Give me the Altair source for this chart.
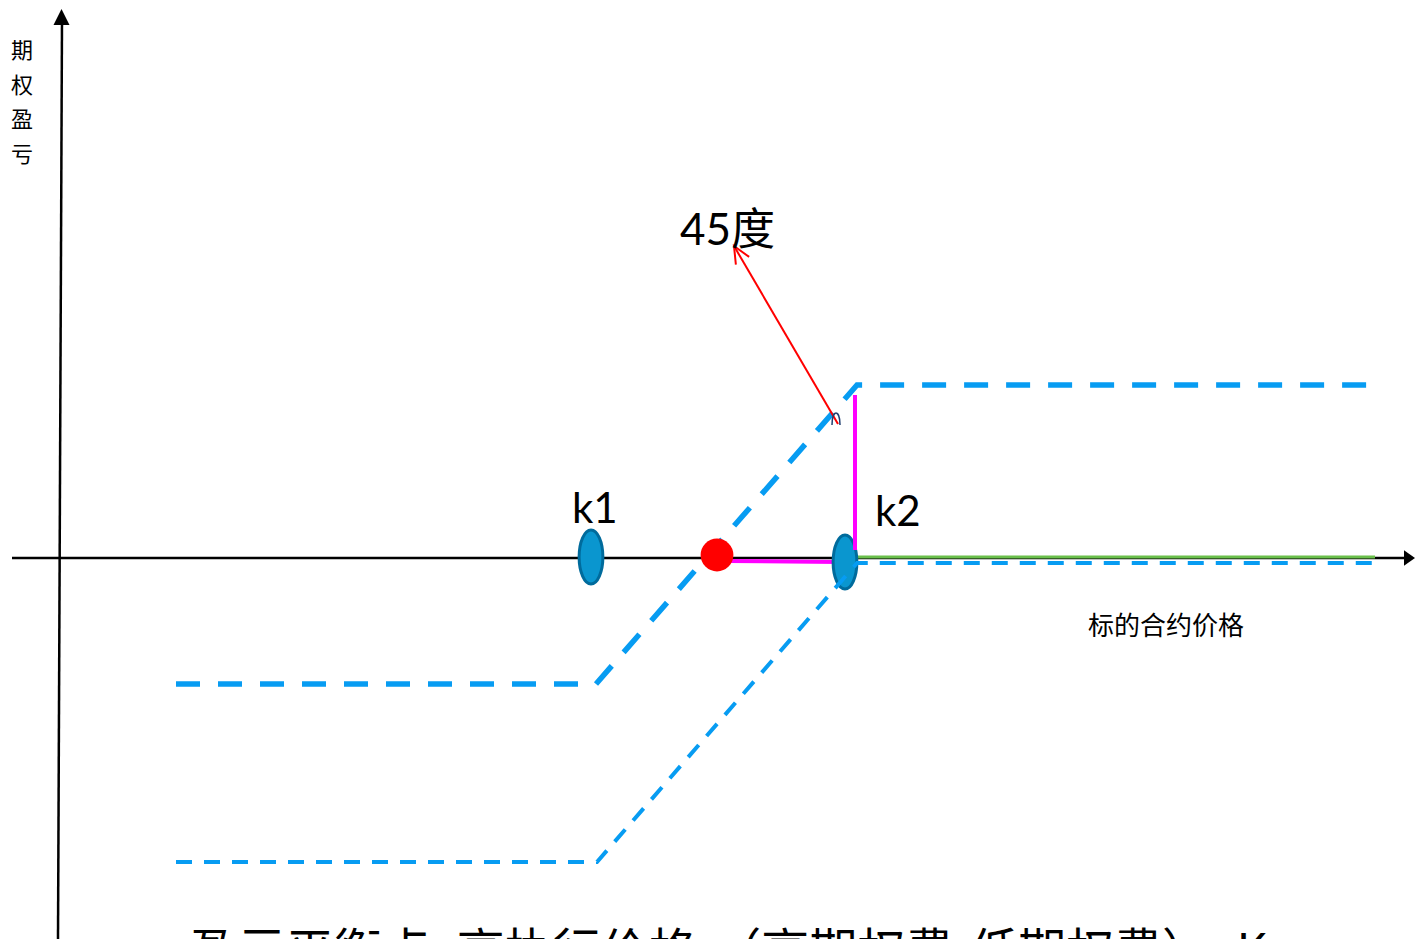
import altair as alt
import pandas as pd

# ---- data (price units on x, profit/loss units on y) ----
thick_x = [11.6, 53.6, 79.7, 131.5]
thick_y = [-12.6, -12.6, 17.3, 17.3]
thin_x = [11.6, 53.7, 79.7, 131.5]
thin_y = [-30.4, -30.4, -0.5, -0.5]
green_x = [79.5, 131.5]
green_y = [0.1, 0.1]
mag_h_x = [66.8, 78.0]
mag_h_y = [-0.3, -0.4]
mag_v_x = [79.5, 79.5]
mag_v_y = [16.3, 0.8]
strike_x = [53.1, 78.5]
strike_y = [0.1, -0.4]
strike_labels = ["k1", "k2"]
strike_label_x = [51.2, 81.5]
strike_label_y = [3.5, 3.2]
breakeven_x = [65.7]
breakeven_y = [0.3]
arrow_x = [77.8, 67.4]
arrow_y = [13.4, 31.2]
yaxis_x = [0.2, -0.2]
yaxis_y = [53.8, -38.1]
xaxis_x = [-4.8, 134.6]
xaxis_y = [0.0, 0.0]

X = alt.Scale(domain=[-5.2, 135.6], nice=False, zero=False)
Y = alt.Scale(domain=[-38.1, 55.0], nice=False, zero=False)

def enc(ch):
    return ch.encode(x=alt.X("x:Q", scale=X, axis=None), y=alt.Y("y:Q", scale=Y, axis=None))

def line(xs, ys, **mk):
    df = pd.DataFrame({"x": xs, "y": ys, "o": list(range(len(xs)))})
    return alt.Chart(df).mark_line(**mk).encode(
        x=alt.X("x:Q", scale=X, axis=None), y=alt.Y("y:Q", scale=Y, axis=None), order="o:Q")

def rule(xs, ys, **mk):
    df = pd.DataFrame({"x": [xs[0]], "y": [ys[0]], "x2": [xs[1]], "y2": [ys[1]]})
    return alt.Chart(df).mark_rule(**mk).encode(
        x=alt.X("x:Q", scale=X, axis=None), y=alt.Y("y:Q", scale=Y, axis=None), x2="x2:Q", y2="y2:Q")

def pts(xs, ys, **mk):
    df = pd.DataFrame({"x": xs, "y": ys})
    return enc(alt.Chart(df).mark_point(opacity=1, **mk))

def txt(xs, ys, ts, **mk):
    df = pd.DataFrame({"x": xs, "y": ys, "t": ts})
    return alt.Chart(df).mark_text(**mk).encode(
        x=alt.X("x:Q", scale=X, axis=None), y=alt.Y("y:Q", scale=Y, axis=None), text="t:N")

BLUE = "#079cf2"
ELLIPSE = "M0,-1A0.44,1,0,1,1,0,1A0.44,1,0,1,1,0,-1Z"

layers = [
    rule(yaxis_x, yaxis_y, color="black", strokeWidth=2.5),
    rule(xaxis_x, xaxis_y, color="black", strokeWidth=2.5),
    pts([0.15], [54.9], shape="M0,0L-0.5,1L0.5,1Z", size=1024, filled=True, color="black", strokeWidth=0),
    pts([135.5], [0.0], shape="M0,0L-1,-0.7L-1,0.7Z", size=484, filled=True, color="black", strokeWidth=0),
    line(thick_x, thick_y, color=BLUE, strokeWidth=5.5, strokeDash=[24, 18]),
    line(green_x, green_y, color="#6abf4b", strokeWidth=3),
    line(mag_h_x, mag_h_y, color="#ff00ff", strokeWidth=4),
    pts(strike_x, strike_y, shape=ELLIPSE, size=2916, filled=True, color="#0a96cf",
        stroke="#006b9c", strokeWidth=3),
    enc(alt.Chart(pd.DataFrame({"x": breakeven_x, "y": breakeven_y}))
        .mark_circle(size=1075, color="#ff0000", opacity=1)),
    line(mag_v_x, mag_v_y, color="#ff00ff", strokeWidth=4),
    line(thin_x, thin_y, color=BLUE, strokeWidth=4, strokeDash=[16, 12]),
    rule(arrow_x, arrow_y, color="#ff0000", strokeWidth=2),
    pts([arrow_x[1]], [arrow_y[1]], shape="M-0.45,1L0,0L0.45,1", size=1156, filled=False,
        color="#ff0000", strokeWidth=2, angle=330),
    pts([77.6], [14.1], shape="M-0.5,1C-0.5,-1 0.5,-1 0.5,1", size=256, filled=False,
        color="#1f3f70", strokeWidth=1.5),
    txt([62.0], [31.3], ["45度"], align="left", baseline="alphabetic", fontSize=44,
        font="Lato, Noto Sans CJK SC", color="black"),
    txt(strike_label_x, strike_label_y, strike_labels, align="left", baseline="alphabetic",
        fontSize=42, font="Lato, Noto Sans CJK SC", color="black"),
    txt([102.8], [-6.9], ["标的合约价格"], align="left", baseline="middle", fontSize=26,
        font="Noto Sans CJK SC", color="black"),
    txt([-3.8], [51.7], ["期\n权\n盈\n亏"], align="center", baseline="top", fontSize=22,
        lineBreak="\n", lineHeight=34.7, font="Noto Sans CJK SC", color="black"),
    txt([13.0], [-41.0], ["盈亏平衡点=高执行价格-（高期权费-低期权费）=K"], align="left",
        baseline="alphabetic", fontSize=48, font="Noto Sans CJK SC", color="black"),
]

chart = alt.layer(*layers).properties(
    width=1408, height=931, padding=0,
    autosize=alt.AutoSizeParams(type="none"),
    background="white",
).configure_view(stroke=None)

chart.save("out.html", embed_options={"renderer": "svg", "actions": False})
